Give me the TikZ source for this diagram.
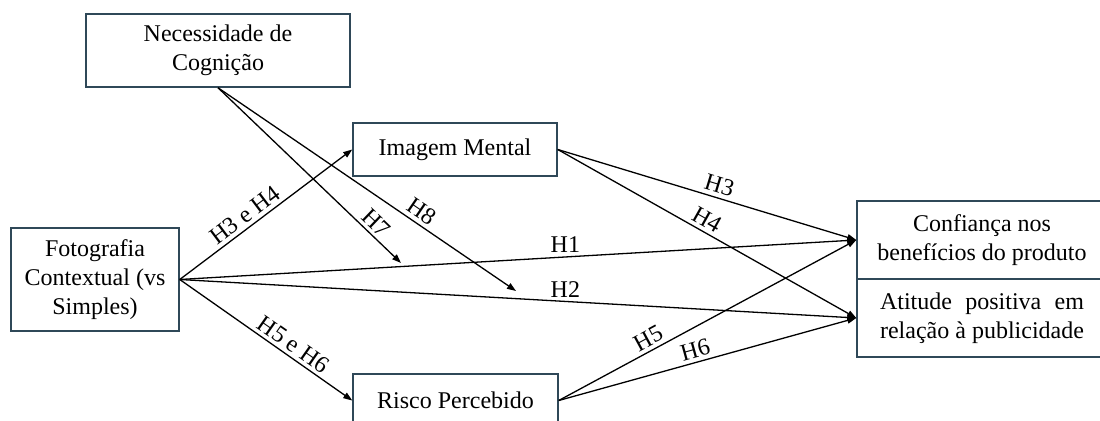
\documentclass[tikz,border=0pt]{standalone}
\usepackage{fontspec}
\setmainfont{Liberation Serif}[Ligatures=CommonOff]
\usetikzlibrary{arrows.meta}
\definecolor{boxcol}{RGB}{47,72,88}
\newlength\atwid
\begin{document}
\begin{tikzpicture}[x=0.5pt,y=-0.5pt,
  every node/.style={font=\fontsize{12}{14.5}\selectfont},
  bx/.style={draw=boxcol,line width=0.75pt,rectangle,inner sep=0pt,align=center},
  arr/.style={-{Triangle[length=4.5pt,width=3.2pt]},line width=0.65pt},
  lab/.style={above,inner sep=1.8pt}]
\useasboundingbox (0,0) rectangle (1100,421);
\clip (0,0) rectangle (1100,421);
\node[bx,minimum width=132pt,minimum height=36.5pt] (nec) at (218,50.5) {Necessidade de\\Cognição};
\node[bx,minimum width=84pt,minimum height=51.5pt] (foto) at (95,279.5) {Fotografia\\Contextual (vs\\Simples)};
\node[bx,minimum width=102pt,minimum height=26.5pt] (img) at (455,149.5) {Imagem Mental};
\node[bx,minimum width=102.5pt,minimum height=26.5pt] (risco) at (455.5,400.5) {Risco Percebido};
\node[bx,minimum width=125pt,minimum height=39pt] (conf) at (982,240) {Confiança nos\\benefícios do produto};
\node[bx,minimum width=125pt,minimum height=39pt] (atit) at (982,318) {\settowidth{\atwid}{relação à publicidade}\makebox[\atwid][s]{Atitude positiva em}\\relação à publicidade};
\coordinate (h7) at (401,263);
\coordinate (h8) at (516,291);
\draw[arr] (nec.south) -- node[lab,sloped,pos=0.82]{H7} (h7);
\draw[arr] (nec.south) -- node[lab,sloped,pos=0.66]{H8} (h8);
\draw[arr] (foto.east) -- node[lab,sloped,pos=0.42]{H3 e H4} (img.west);
\draw[arr] (foto.east) -- node[lab,sloped,pos=0.62]{H5 e H6} (risco.west);
\draw[arr] (foto.east) -- node[lab,pos=0.57]{H1} (conf.west);
\draw[arr] (foto.east) -- node[lab,pos=0.57]{H2} (atit.west);
\draw[arr] (img.east) -- node[lab,sloped,pos=0.53]{H3} (conf.west);
\draw[arr] (img.east) -- node[lab,sloped,pos=0.48]{H4} (atit.west);
\draw[arr] (risco.east) -- node[lab,sloped,pos=0.32]{H5} (conf.west);
\draw[arr] (risco.east) -- node[lab,sloped,pos=0.47]{H6} (atit.west);
\end{tikzpicture}
\end{document}
